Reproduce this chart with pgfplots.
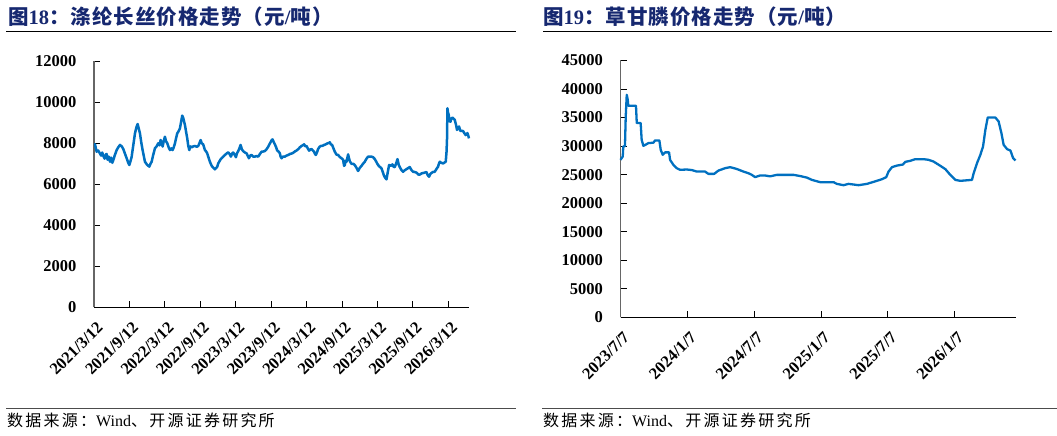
\documentclass[border=0pt]{standalone}
\usepackage{fontspec}
\usepackage{pgfplots}
\pgfplotsset{compat=1.18}
\setmainfont{Liberation Serif}
\newfontfamily\cjk{Noto Sans CJK SC}
\definecolor{titleblue}{RGB}{22,40,112}
\definecolor{lineblue}{RGB}{0,112,192}
\newcommand\tlfont{\bfseries\fontsize{16.5}{16.5}\selectfont}
\pgfplotsset{
  mystyle/.style={
    scale only axis, anchor=south west,
    axis x line*=bottom, axis y line*=left,
    axis line style={-},
    x axis line style={black, line width=1pt},
    y axis line style={black!60, line width=1.2pt},
    tick align=inside, major tick length=6pt,
    tick style={black, line width=0.8pt},
    scaled ticks=false,
    tick label style={font=\tlfont},
    /pgf/number format/.cd, 1000 sep={}, assume math mode=true, /pgfplots/.cd,
    yticklabel style={font=\tlfont, xshift=-14pt},
    xticklabel style={font=\tlfont, xshift=2pt, yshift=-8.5pt, rotate=45, anchor=north east},
    clip=false,
  }
}
\begin{document}
\begin{tikzpicture}
\path[use as bounding box] (0,0) rectangle (1057pt,436pt);
% titles
\node[anchor=base west, inner sep=0, text=titleblue] at (8pt,411pt)
  {\fontsize{20.5}{20.5}\selectfont\bfseries{\cjk\addfontfeatures{LetterSpace=5}图}18{\cjk\addfontfeatures{LetterSpace=5}：涤纶长丝价格走势（元}/{\cjk\addfontfeatures{LetterSpace=5}吨）}};
\node[anchor=base west, inner sep=0, text=titleblue] at (543pt,411pt)
  {\fontsize{20.5}{20.5}\selectfont\bfseries{\cjk\addfontfeatures{LetterSpace=5}图}19{\cjk\addfontfeatures{LetterSpace=5}：草甘膦价格走势（元}/{\cjk\addfontfeatures{LetterSpace=5}吨）}};
\draw[line width=0.9pt] (6pt,405pt) -- (516pt,405pt);
\draw[line width=0.9pt] (543pt,405pt) -- (1052pt,405pt);
\draw[line width=0.9pt, black!70] (6pt,28pt) -- (516pt,28pt);
\draw[line width=0.9pt, black!70] (542pt,28pt) -- (1057pt,28pt);
\node[anchor=base west, inner sep=0] at (7pt,9pt)
  {\fontsize{16}{16}\selectfont{\cjk\addfontfeatures{LetterSpace=14}数据来源：}Wind{\cjk\addfontfeatures{LetterSpace=14}、开源证券研究所}};
\node[anchor=base west, inner sep=0] at (543pt,9pt)
  {\fontsize{16}{16}\selectfont{\cjk\addfontfeatures{LetterSpace=14}数据来源：}Wind{\cjk\addfontfeatures{LetterSpace=14}、开源证券研究所}};

\begin{axis}[mystyle, at={(94pt,128.7pt)}, width=375pt, height=246pt,
  xmin=0, xmax=63.5, ymin=0, ymax=12000,
  ytick={0,2000,...,12000},
  xtick={0,6,...,60},
  xticklabels={2021/3/12,2021/9/12,2022/3/12,2022/9/12,2023/3/12,2023/9/12,2024/3/12,2024/9/12,2025/3/12,2025/9/12,2026/3/12}]
\addplot[lineblue, line width=2.5pt, line join=round] coordinates {
(0.0,7950)(0.17,7950)(0.45,7590)(0.7,7650)(1.0,7510)(1.2,7400)(1.4,7550)(1.58,7380)(1.8,7250)(2.0,7450)
(2.14,7480)(2.3,7200)(2.5,7350)(2.71,7100)(2.9,7300)(3.1,7050)(3.27,7180)(3.5,7400)(3.84,7670)(4.1,7800)
(4.4,7920)(4.7,7850)(4.96,7720)(5.3,7450)(5.53,7270)(5.8,7050)(5.98,6940)(6.2,7150)(6.37,7330)(6.65,7900)
(6.94,8490)(7.2,8800)(7.39,8940)(7.6,8700)(7.78,8490)(8.0,8050)(8.23,7670)(8.45,7350)(8.63,7100)(9.0,6950)
(9.36,6860)(9.56,7000)(9.76,7100)(10.0,7400)(10.32,7760)(10.6,7850)(10.88,8000)(11.1,7900)(11.28,8160)(11.45,8050)
(11.62,7840)(11.8,8100)(12.01,8320)(12.2,8100)(12.41,8000)(12.65,7800)(12.86,7670)(13.1,7750)(13.31,7670)(13.5,7800)
(13.71,8000)(13.9,8250)(14.1,8490)(14.35,8600)(14.55,8730)(14.75,9050)(14.94,9350)(15.1,9250)(15.4,8890)(15.6,8550)
(15.79,8240)(15.95,7900)(16.13,7670)(16.33,7850)(16.53,7800)(16.8,7850)(17.09,7870)(17.4,7830)(17.65,7870)(17.85,8000)
(18.05,8160)(18.25,8000)(18.49,7950)(18.78,7670)(19.0,7600)(19.17,7510)(19.4,7300)(19.63,7100)(19.85,6950)(20.02,6860)
(20.25,6800)(20.47,6730)(20.7,6800)(20.86,6850)(21.04,7020)(21.2,7100)(21.4,7200)(21.6,7270)(21.9,7350)(22.17,7430)
(22.45,7500)(22.73,7560)(22.95,7480)(23.18,7350)(23.4,7500)(23.57,7550)(23.8,7450)(24.03,7320)(24.2,7500)(24.42,7620)
(24.62,7750)(24.82,7920)(25.05,7700)(25.26,7620)(25.55,7550)(25.84,7510)(26.05,7380)(26.23,7270)(26.45,7400)(26.68,7430)
(26.95,7350)(27.24,7350)(27.5,7380)(27.8,7350)(28.1,7480)(28.38,7590)(28.65,7600)(28.93,7620)(29.2,7700)(29.49,7830)
(29.7,7950)(29.9,8050)(30.08,8150)(30.24,8190)(30.45,8050)(30.63,7950)(30.85,7800)(31.02,7650)(31.25,7600)(31.47,7510)
(31.6,7350)(31.76,7270)(32.0,7350)(32.32,7350)(32.6,7400)(32.88,7430)(33.2,7480)(33.55,7510)(33.8,7550)(34.01,7600)
(34.3,7650)(34.57,7710)(34.85,7800)(35.14,7870)(35.35,7900)(35.58,7950)(35.8,7850)(35.99,7870)(36.2,7750)(36.43,7640)
(36.65,7700)(36.84,7720)(37.05,7650)(37.23,7600)(37.4,7500)(37.56,7430)(37.75,7550)(37.95,7720)(38.2,7830)(38.41,7870)
(38.7,7880)(38.97,7920)(39.25,7950)(39.54,8000)(39.75,8010)(39.93,8050)(40.1,7950)(40.32,7920)(40.55,7750)(40.78,7590)
(41.05,7450)(41.34,7430)(41.62,7330)(41.91,7270)(42.18,7200)(42.35,6900)(42.47,6940)(42.62,7150)(42.76,7100)(43.03,7460)
(43.2,7250)(43.32,7120)(43.6,7000)(43.9,7000)(44.16,6940)(44.45,6800)(44.72,6650)(45.0,6800)(45.3,6900)(45.55,7000)
(45.85,7100)(46.1,7230)(46.41,7350)(46.7,7350)(46.99,7350)(47.25,7320)(47.55,7230)(47.8,7100)(48.1,6940)(48.4,6850)
(48.68,6780)(48.9,6600)(49.07,6450)(49.3,6320)(49.53,6240)(49.75,6600)(49.97,6940)(50.25,6900)(50.54,6970)(50.75,6850)
(50.93,6840)(51.2,7050)(51.39,7230)(51.6,6950)(51.78,6840)(52.05,6700)(52.34,6610)(52.6,6680)(52.91,6740)(53.2,6790)
(53.47,6840)(53.75,6700)(54.03,6610)(54.3,6600)(54.6,6570)(54.9,6480)(55.16,6470)(55.45,6530)(55.72,6550)(56.0,6570)
(56.29,6600)(56.5,6450)(56.73,6370)(56.95,6500)(57.14,6550)(57.4,6600)(57.7,6610)(58.0,6750)(58.26,6860)(58.4,7000)
(58.55,7100)(58.8,7050)(59.1,7020)(59.3,7050)(59.56,7100)(59.7,7600)(59.78,8240)(59.85,9710)(59.95,9500)(60.07,9380)
(60.2,9100)(60.36,9050)(60.5,9200)(60.69,9250)(60.9,9200)(61.08,9150)(61.3,8900)(61.47,8650)(61.65,8750)(61.81,8820)
(62.05,8600)(62.25,8600)(62.49,8600)(62.7,8500)(62.94,8400)(63.1,8450)(63.23,8500)(63.4,8350)(63.5,8240)
};
\end{axis}

\begin{axis}[mystyle, at={(620.5pt,118.7pt)}, width=395.5pt, height=256.8pt,
  xmin=0, xmax=35.5, ymin=0, ymax=45000,
  ytick={0,5000,...,45000},
  xtick={0,6,...,30},
  xticklabels={2023/7/7,2024/1/7,2024/7/7,2025/1/7,2025/7/7,2026/1/7}]
\addplot[lineblue, line width=2.3pt, line join=round] coordinates {
(0,27590)(0.2,28170)(0.25,29920)(0.4,30000)(0.47,35190)(0.56,38990)(0.65,38110)(0.7,37060)(1.39,37060)(1.46,34030)
(1.81,34030)(1.9,31100)(2.05,30050)(2.26,30250)(2.5,30520)(2.95,30600)(3.1,30980)(3.49,30980)(3.61,29340)(3.79,28470)
(4.0,28900)(4.36,28900)(4.45,27590)(4.75,26710)(5.05,26130)(5.35,25840)(5.95,25900)(6.4,25800)(6.85,25540)(7.59,25540)
(7.89,25130)(8.4,25130)(8.79,25710)(9.39,26130)(9.84,26310)(10.44,25990)(11.03,25540)(11.48,25250)(11.79,24960)(12.08,24560)
(12.53,24850)(12.98,24850)(13.43,24700)(14.03,24960)(15.53,24960)(16.13,24750)(16.73,24480)(17.18,24080)(17.92,23680)(19.12,23680)
(19.42,23380)(20.02,23150)(20.47,23380)(21.37,23150)(22.12,23380)(22.71,23730)(23.47,24200)(23.85,24560)(24.06,25540)(24.37,26310)
(24.82,26590)(25.35,26770)(25.56,27240)(26.01,27420)(26.46,27710)(27.21,27710)(27.66,27590)(28.1,27290)(28.71,26540)(29.16,25960)
(29.6,24960)(30.05,24080)(30.5,23910)(31.55,24080)(31.7,25260)(32.0,27010)(32.3,28470)(32.54,29920)(32.75,32850)(32.96,35010)
(33.65,35010)(33.94,34310)(34.19,32270)(34.39,30220)(34.7,29470)(35.0,29220)(35.24,27890)(35.45,27470)
};
\end{axis}
\end{tikzpicture}
\end{document}
